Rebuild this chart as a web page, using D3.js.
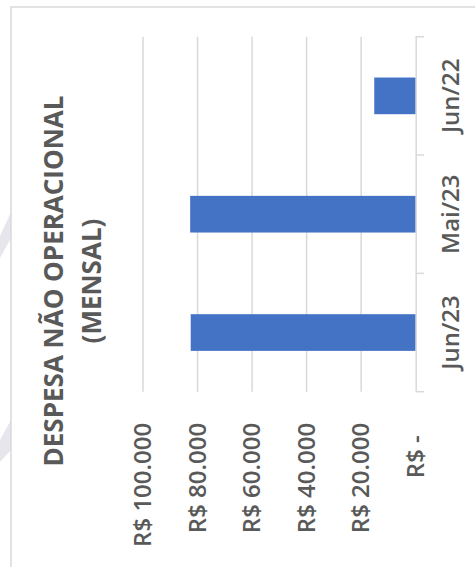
<!DOCTYPE html>
<html>
<head>
<meta charset="utf-8">
<script src="https://cdn.jsdelivr.net/npm/d3@7"></script>
<style>
	body { margin: 0; background: #fff; }
	svg { display: block; font-family: "Open Sans", sans-serif; }
</style>
</head>
<body>
<div id="chart"></div>
<script>
// Chart data
const categories = ["Jun/23", "Mai/23", "Jun/22"];
const values = [82500, 82700, 15200];
const valueTicks = [0, 20000, 40000, 60000, 80000, 100000];
const titleLines = ["DESPESA NÃO OPERACIONAL", "(MENSAL)"];

const width = 475, height = 567;
const textColor = "#595959";
const gridColor = "#d9d9d9";

const svg = d3.select("#chart").append("svg")
	.attr("width", width)
	.attr("height", height);

// faint background shapes on the left edge
svg.append("polygon")
	.attr("points", "0,236 11,212 11,238 0,258")
	.attr("fill", "#e6e6ec");
svg.append("polygon")
	.attr("points", "0,440 11,420 11,450 0,462")
	.attr("fill", "#e6e6ec");

// chart frame
svg.append("rect")
	.attr("x", 11).attr("y", 7)
	.attr("width", 500).attr("height", 600)
	.attr("fill", "none")
	.attr("stroke", gridColor)
	.attr("stroke-width", 1.5);

// The whole chart is drawn as a column chart and rotated -90 degrees
const g = svg.append("g")
	.attr("transform", "translate(0," + height + ") rotate(-90)");

// local coordinates: 567 wide, 475 tall
const plot = { left: 175.3, right: 530.3, top: 143, bottom: 415.7 };

const x = d3.scaleBand()
	.domain(categories)
	.range([plot.left, plot.right])
	.padding(0);

const y = d3.scaleLinear()
	.domain([0, 100000])
	.range([plot.bottom, plot.top]);

// Gridlines
g.append("g")
	.selectAll("line")
	.data(valueTicks.filter(d => d > 0))
	.join("line")
	.attr("x1", plot.left).attr("x2", plot.right)
	.attr("y1", d => y(d)).attr("y2", d => y(d))
	.attr("stroke", gridColor)
	.attr("stroke-width", 1.5);

// Value axis labels
const fmt = d => d === 0 ? "R$ -\u00A0\u00A0" : "R$ " + d3.format(",")(d).replace(/,/g, ".");
const yAxis = g.append("g")
	.attr("transform", "translate(" + (plot.left - 31) + ",0)")
	.call(d3.axisLeft(y).tickValues(valueTicks).tickFormat(fmt).tickSize(0).tickPadding(0));
yAxis.select(".domain").remove();
yAxis.selectAll("text")
	.attr("fill", textColor)
	.attr("font-size", 24)
	.attr("font-weight", 600)
	.attr("font-family", "Open Sans, sans-serif");

// Bars
const barW = x.bandwidth() * 0.31;
g.append("g")
	.selectAll("rect")
	.data(categories.map((c, i) => ({ c: c, v: values[i] })))
	.join("rect")
	.attr("x", d => x(d.c) + (x.bandwidth() - barW) / 2)
	.attr("width", barW)
	.attr("y", d => y(d.v))
	.attr("height", d => y(0) - y(d.v))
	.attr("fill", "#4472c4");

// Category axis
const xAxis = g.append("g")
	.attr("transform", "translate(0," + plot.bottom + ")")
	.call(d3.axisBottom(x).tickSize(0).tickPadding(26).tickSizeOuter(0));
xAxis.select(".domain")
	.attr("stroke", gridColor)
	.attr("stroke-width", 1.5);
xAxis.selectAll("text")
	.attr("fill", textColor)
	.attr("font-size", 24)
	.attr("font-weight", 600)
	.attr("font-family", "Open Sans, sans-serif");

// tick marks at category boundaries
const bounds = categories.map(c => x(c)).concat([x(categories[categories.length - 1]) + x.bandwidth()]);
xAxis.append("g")
	.selectAll("line")
	.data(bounds)
	.join("line")
	.attr("x1", d => d).attr("x2", d => d)
	.attr("y1", 0).attr("y2", 8.5)
	.attr("stroke", gridColor)
	.attr("stroke-width", 1.5);

// Title
g.append("g")
	.selectAll("text")
	.data(titleLines)
	.join("text")
	.attr("x", 286)
	.attr("y", (d, i) => 63 + i * 38)
	.attr("text-anchor", "middle")
	.attr("fill", textColor)
	.attr("font-weight", "bold")
	.attr("font-size", 26)
	.text(d => d);
</script>
</body>
</html>
